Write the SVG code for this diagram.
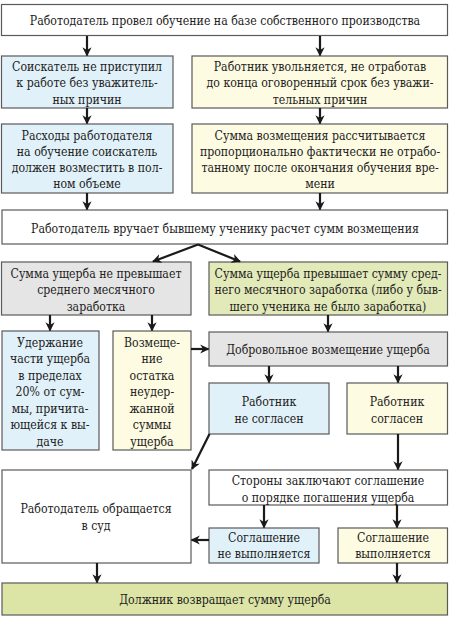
<svg xmlns="http://www.w3.org/2000/svg" width="450" height="617" viewBox="0 0 450 617">
<defs>
<style>
rect{stroke:#5a5a5a;stroke-width:1.2}
.w{fill:#ffffff}.b{fill:#e1f1f9}.y{fill:#fdfbe1}.g{fill:#e5e5e5}.gr{fill:#e3eab9}.fg{fill:#dde5a6}
text{font-family:"DejaVu Serif Condensed","DejaVu Serif","Liberation Serif",serif;font-stretch:condensed;font-size:12.2px;fill:#222;text-anchor:middle}
.c line{stroke:#1a1a1a;stroke-width:2.2;marker-end:url(#ah)}
</style>
<marker id="ah" viewBox="0 0 10 10" refX="9" refY="5" markerWidth="4.2" markerHeight="4.2" orient="auto" markerUnits="strokeWidth">
<path d="M0,0 L10,5 L0,10 L3,5 Z" fill="#1a1a1a"/>
</marker>
</defs>
<g id="n1"><rect class="w" x="1.5" y="4.5" width="446" height="31"/><text x="225" y="25">Работодатель провел обучение на базе собственного производства</text></g>
<g id="n2"><rect class="b" x="1.5" y="56" width="171.5" height="52"/><text x="87" y="70.5">Соискатель не приступил</text><text x="87" y="87">к работе без уважитель-</text><text x="87" y="103.5">ных причин</text></g>
<g id="n3"><rect class="y" x="192" y="56" width="255.5" height="52"/><text x="320" y="70.5">Работник увольняется, не отработав</text><text x="320" y="87">до конца оговоренный срок без уважи-</text><text x="320" y="103.5">тельных причин</text></g>
<g id="n4"><rect class="b" x="1.5" y="124" width="171.5" height="69"/><text x="87" y="139.5">Расходы работодателя</text><text x="87" y="155.5">на обучение соискатель</text><text x="87" y="171.5">должен возместить в пол-</text><text x="87" y="187.5">ном объеме</text></g>
<g id="n5"><rect class="y" x="192" y="124" width="255.5" height="69"/><text x="320" y="139.5">Сумма возмещения рассчитывается</text><text x="320" y="155.5">пропорционально фактически не отрабо-</text><text x="320" y="171.5">танному после окончания обучения вре-</text><text x="320" y="187.5">мени</text></g>
<g id="n6"><rect class="w" x="2" y="210" width="445.5" height="34"/><text x="225" y="232.5">Работодатель вручает бывшему ученику расчет сумм возмещения</text></g>
<g id="n7"><rect class="g" x="1.5" y="262" width="189.5" height="53"/><text x="96" y="277.5">Сумма ущерба не превышает</text><text x="96" y="294">среднего месячного</text><text x="96" y="310.5">заработка</text></g>
<g id="n8"><rect class="gr" x="209" y="262" width="238.5" height="53"/><text x="328" y="277.5">Сумма ущерба превышает сумму сред-</text><text x="328" y="294">него месячного заработка (либо у быв-</text><text x="328" y="310.5">шего ученика не было заработка)</text></g>
<g id="n9"><rect class="b" x="2" y="331" width="97" height="119"/><text x="50" y="346.5">Удержание</text><text x="50" y="363">части ущерба</text><text x="50" y="379.5">в пределах</text><text x="50" y="396">20% от сум-</text><text x="50" y="412.5">мы, причита-</text><text x="50" y="429">ющейся к вы-</text><text x="50" y="445.5">даче</text></g>
<g id="n10"><rect class="y" x="113" y="331" width="78" height="119"/><text x="152" y="346.5">Возмеще-</text><text x="152" y="363">ние</text><text x="152" y="379.5">остатка</text><text x="152" y="396">неудер-</text><text x="152" y="412.5">жанной</text><text x="152" y="429">суммы</text><text x="152" y="445.5">ущерба</text></g>
<g id="n11"><rect class="g" x="209" y="332" width="238.5" height="34"/><text x="328" y="353.5">Добровольное возмещение ущерба</text></g>
<g id="n12"><rect class="b" x="209" y="383" width="120" height="51"/><text x="269" y="405.5">Работник</text><text x="269" y="422.5">не согласен</text></g>
<g id="n13"><rect class="y" x="347" y="383" width="100.5" height="51"/><text x="397" y="405.5">Работник</text><text x="397" y="422.5">согласен</text></g>
<g id="n14"><rect class="w" x="2" y="470" width="189" height="93"/><text x="96" y="512.5">Работодатель обращается</text><text x="96" y="529.5">в суд</text></g>
<g id="n15"><rect class="w" x="209" y="470" width="238.5" height="35"/><text x="328" y="484.5">Стороны заключают соглашение</text><text x="328" y="501.5">о порядке погашения ущерба</text></g>
<g id="n16"><rect class="b" x="209" y="528" width="110" height="35"/><text x="264" y="541.5">Соглашение</text><text x="264" y="557.5">не выполняется</text></g>
<g id="n17"><rect class="y" x="338" y="528" width="109.5" height="35"/><text x="393" y="541.5">Соглашение</text><text x="393" y="557.5">выполняется</text></g>
<g id="n18"><rect class="fg" x="2" y="583" width="445.5" height="32"/><text x="225" y="603.5">Должник возвращает сумму ущерба</text></g>
<g id="connectors" class="c">
<line x1="87" y1="36" x2="87" y2="55.5"/>
<line x1="320" y1="36" x2="320" y2="55.5"/>
<line x1="87" y1="108" x2="87" y2="123.5"/>
<line x1="320" y1="108" x2="320" y2="123.5"/>
<line x1="87" y1="193" x2="87" y2="209.5"/>
<line x1="320" y1="193" x2="320" y2="209.5"/>
<line x1="198" y1="244.5" x2="153" y2="261.5"/>
<line x1="198" y1="244.5" x2="240" y2="261.5"/>
<line x1="50" y1="315" x2="50" y2="330.5"/>
<line x1="152" y1="315" x2="152" y2="330.5"/>
<line x1="328" y1="315" x2="328" y2="331.5"/>
<line x1="191" y1="349" x2="208.5" y2="349"/>
<line x1="269" y1="366" x2="269" y2="382.5"/>
<line x1="398" y1="366" x2="398" y2="382.5"/>
<line x1="209.5" y1="434" x2="192" y2="469"/>
<line x1="398" y1="434" x2="398" y2="469.5"/>
<line x1="264" y1="505" x2="264" y2="527.5"/>
<line x1="397" y1="505" x2="397" y2="527.5"/>
<line x1="209" y1="540" x2="191.5" y2="540"/>
<line x1="97" y1="563" x2="97" y2="582.5"/>
<line x1="397" y1="563" x2="397" y2="582.5"/>
</g>
</svg>
